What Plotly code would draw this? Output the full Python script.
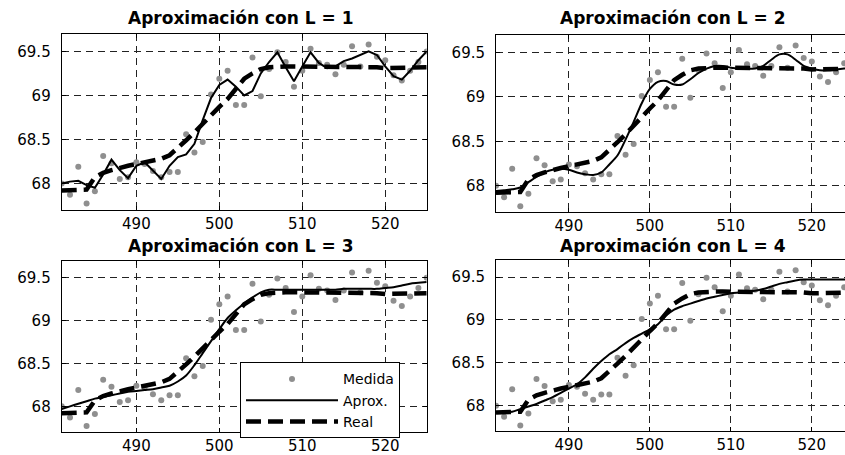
import plotly.graph_objects as go

# Sample index (horizontal axis)
x = list(range(481, 526))

# Measured samples
medida = [68.00, 67.87, 68.19, 67.77, 67.91, 68.31, 68.23, 68.05, 68.07, 68.24,
          68.22, 68.14, 68.07, 68.13, 68.13, 68.56, 68.35, 68.47, 69.01, 69.19,
          69.28, 68.89, 68.89, 69.43, 68.99, 69.30, 69.49, 69.38, 69.10, 69.28,
          69.53, 69.37, 69.35, 69.24, 69.35, 69.56, 69.33, 69.58, 69.44, 69.40,
          69.23, 69.17, 69.28, 69.38, 69.50]

# True signal
real = [67.92, 67.92, 67.92, 67.93, 68.07, 68.12, 68.15, 68.18, 68.20, 68.22,
        68.24, 68.26, 68.28, 68.32, 68.40, 68.49, 68.58, 68.68, 68.78, 68.87,
        68.96, 69.08, 69.19, 69.25, 69.30, 69.32, 69.33, 69.33, 69.33, 69.33,
        69.33, 69.33, 69.33, 69.33, 69.33, 69.33, 69.33, 69.33, 69.32, 69.31,
        69.31, 69.31, 69.31, 69.32, 69.32]

# Approximations for each level L
aprox_l1 = [68.00, 68.02, 68.03, 67.98, 67.95, 68.10, 68.27, 68.15, 68.06, 68.20,
            68.24, 68.14, 68.05, 68.20, 68.30, 68.33, 68.45, 68.72, 68.97, 69.12,
            69.18, 69.10, 69.00, 69.05, 69.25, 69.38, 69.49, 69.32, 69.16, 69.33,
            69.49, 69.37, 69.31, 69.33, 69.39, 69.42, 69.46, 69.50, 69.46, 69.33,
            69.22, 69.18, 69.28, 69.40, 69.50]

aprox_l2 = [67.94, 67.95, 67.96, 67.98, 68.04, 68.10, 68.15, 68.18, 68.19, 68.18,
            68.15, 68.13, 68.12, 68.15, 68.24, 68.34, 68.52, 68.72, 68.93, 69.09,
            69.17, 69.18, 69.14, 69.14, 69.20, 69.27, 69.32, 69.35, 69.35, 69.33,
            69.32, 69.32, 69.32, 69.35, 69.42, 69.48, 69.48, 69.42, 69.35, 69.32,
            69.30, 69.30, 69.31, 69.32, 69.33]

aprox_l3 = [67.97, 68.00, 68.03, 68.06, 68.09, 68.11, 68.13, 68.15, 68.17, 68.18,
            68.19, 68.20, 68.22, 68.24, 68.29, 68.36, 68.48, 68.62, 68.76, 68.90,
            69.03, 69.12, 69.20, 69.27, 69.33, 69.36, 69.36, 69.36, 69.36, 69.36,
            69.36, 69.36, 69.36, 69.36, 69.37, 69.37, 69.37, 69.37, 69.37, 69.38,
            69.39, 69.41, 69.43, 69.44, 69.45]

aprox_l4 = [67.92, 67.92, 67.93, 67.96, 67.99, 68.02, 68.06, 68.10, 68.15, 68.20,
            68.25, 68.33, 68.43, 68.52, 68.60, 68.66, 68.73, 68.79, 68.84, 68.89,
            68.95, 69.05, 69.12, 69.16, 69.19, 69.22, 69.25, 69.27, 69.29, 69.31,
            69.32, 69.33, 69.34, 69.36, 69.39, 69.42, 69.44, 69.46, 69.47, 69.47,
            69.47, 69.47, 69.47, 69.47, 69.47]

approximations = [aprox_l1, aprox_l2, aprox_l3, aprox_l4]
titles = ["Aproximación con L = 1", "Aproximación con L = 2",
          "Aproximación con L = 3", "Aproximación con L = 4"]

x_tickvals = [490, 500, 510, 520]
x_ticktext = ["490", "500", "510", "520"]
y_tickvals = [68, 68.5, 69, 69.5]
y_ticktext = ["68", "68.5", "69", "69.5"]

W, H = 845, 455
FONT = "DejaVu Sans"
GRAY = "#8f8f8f"

# Panel geometry in pixels: (left, right, top, bottom, x_end)
panels = [
    (61.7, 426.7, 34.0, 210.7, 525.0),
    (496.0, 845.0, 35.0, 213.3, 524.1),
    (61.7, 426.7, 261.7, 434.0, 525.0),
    (496.0, 845.0, 261.0, 433.3, 524.1),
]

fig = go.Figure()
layout = {}

for i, (aprox, (left, right, top, bottom, x_end)) in enumerate(zip(approximations, panels)):
    n = i + 1
    xa = "x" if n == 1 else f"x{n}"
    ya = "y" if n == 1 else f"y{n}"
    legend_here = (n == 3)

    fig.add_trace(go.Scatter(
        x=x, y=medida, mode="markers", name="Medida", xaxis=xa, yaxis=ya,
        marker=dict(color=GRAY, size=6), showlegend=legend_here))
    fig.add_trace(go.Scatter(
        x=x, y=aprox, mode="lines", name="Aprox.", xaxis=xa, yaxis=ya,
        line=dict(color="black", width=2,
                  shape="linear" if n == 1 else "spline", smoothing=0.8),
        showlegend=legend_here))
    fig.add_trace(go.Scatter(
        x=x, y=real, mode="lines", name="Real", xaxis=xa, yaxis=ya,
        line=dict(color="black", width=4.5, dash="15px,7px"),
        showlegend=legend_here))

    is_right = n in (2, 4)
    common = dict(
        showline=True, linecolor="black", linewidth=1,
        ticks="inside", ticklen=4, tickcolor="black",
        showgrid=True, gridcolor="#222222", gridwidth=1, griddash="7px,5px",
        zeroline=False, tickfont=dict(family=FONT, size=15, color="black"),
    )
    layout["xaxis" if n == 1 else f"xaxis{n}"] = dict(
        common, domain=[left / W, right / W], range=[481, x_end],
        tickvals=x_tickvals, ticktext=x_ticktext, anchor=ya, mirror="ticks",
        ticklabelstandoff=0)
    layout["yaxis" if n == 1 else f"yaxis{n}"] = dict(
        common, domain=[1 - bottom / H, 1 - top / H], range=[67.7, 69.7],
        tickvals=y_tickvals, ticktext=y_ticktext, anchor=xa,
        mirror=False if is_right else "ticks", ticklabelstandoff=7)

annotations = []
title_pos = [(240.5, 18), (672.5, 18), (241, 247), (672.5, 247)]
for t, (cx, cy) in zip(titles, title_pos):
    annotations.append(dict(
        text=t, x=cx / W, y=1 - cy / H, xref="paper", yref="paper",
        xanchor="center", yanchor="middle", showarrow=False,
        font=dict(family=FONT, size=17, color="black", weight="bold")))

fig.update_layout(
    width=W, height=H, margin=dict(l=0, r=0, t=0, b=0),
    paper_bgcolor="white", plot_bgcolor="white",
    annotations=annotations,
    legend=dict(x=240 / W, y=1 - 364 / H, xanchor="left", yanchor="top",
                bgcolor="white", bordercolor="black", borderwidth=1,
                font=dict(family=FONT, size=14, color="black"),
                itemwidth=92, tracegroupgap=0),
    **layout,
)

fig.write_html("out.html")
